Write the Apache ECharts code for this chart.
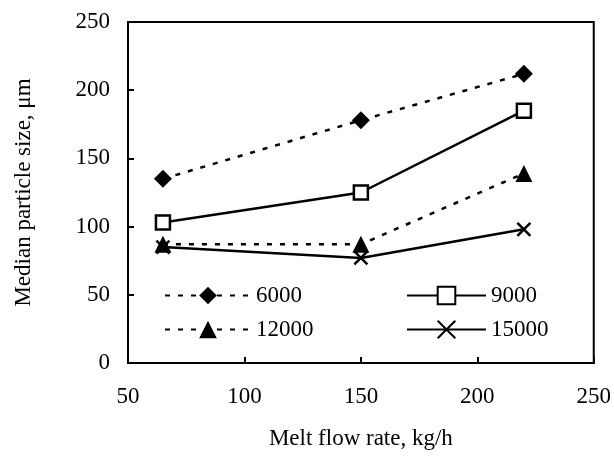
<!DOCTYPE html>
<html>
<head>
<meta charset="utf-8">
<script src="https://cdn.jsdelivr.net/npm/echarts@6/dist/echarts.min.js"></script>
<style>
  html, body { margin: 0; padding: 0; background: #fff; }
  #chart { width: 614px; height: 463px; }
</style>
</head>
<body>
<div id="chart"></div>
<script>
(function() {
  'use strict';

  var colorInk = '#000';
  var fontFamily = '"Liberation Serif", "DejaVu Serif", serif';

  // melt flow rate, kg/h
  var flowRates = [65, 150, 220];
  // median particle size, um, per series
  var size6000 = [135, 178, 212];
  var size9000 = [103, 125, 185];
  var size12000 = [87, 87, 139];
  var size15000 = [85, 77, 98];

  var seriesNames = ['6000', '9000', '12000', '15000'];

  function pairs(xs, ys) {
    return xs.map(function(x, i) { return [x, ys[i]]; });
  }

  var crossPath = 'path://M0,0L10,10M10,0L0,10';

  var chart = echarts.init(document.getElementById('chart'));

  function makeSeries(name, values, dashed, symbol, fill, size) {
    return {
      name: name,
      type: 'line',
      data: pairs(flowRates, values),
      symbol: symbol,
      symbolSize: size,
      showSymbol: true,
      lineStyle: { color: colorInk, width: 2.5, type: dashed ? [5, 8] : 'solid' },
      itemStyle: { color: fill, borderColor: colorInk, borderWidth: symbol === crossPath || fill === '#fff' ? 2.5 : 0 },
      emphasis: { disabled: true },
      z: 3
    };
  }

  var legendText = { color: colorInk, fontSize: 23, fontFamily: fontFamily };

  chart.setOption({
    animation: false,
    backgroundColor: '#fff',
    textStyle: { fontFamily: fontFamily },
    grid: {
      left: 128, right: 19, top: 22, bottom: 100,
      show: true, borderColor: colorInk, borderWidth: 2
    },
    legend: [
      {
        data: [seriesNames[0], seriesNames[2]],
        orient: 'vertical',
        left: 159, top: 279,
        itemWidth: 86, itemHeight: 22, itemGap: 11,
        textStyle: legendText
      },
      {
        data: [seriesNames[1], seriesNames[3]],
        orient: 'vertical',
        left: 401, top: 279,
        itemWidth: 79, itemHeight: 22, itemGap: 11,
        textStyle: legendText
      }
    ],
    xAxis: {
      type: 'value',
      min: 50, max: 250, interval: 50,
      name: 'Melt flow rate, kg/h',
      nameLocation: 'middle',
      nameGap: 64,
      nameTextStyle: { color: colorInk, fontSize: 23, fontFamily: fontFamily },
      axisLine: { lineStyle: { color: colorInk, width: 2 } },
      axisTick: { inside: true, length: 6, lineStyle: { color: colorInk, width: 2 } },
      axisLabel: { color: colorInk, fontSize: 23, margin: 22, fontFamily: fontFamily },
      splitLine: { show: false }
    },
    yAxis: {
      type: 'value',
      min: 0, max: 250, interval: 50,
      name: 'Median particle size, \u03bcm',
      nameLocation: 'middle',
      nameGap: 93,
      nameTextStyle: { color: colorInk, fontSize: 23, fontFamily: fontFamily },
      axisLine: { lineStyle: { color: colorInk, width: 2 } },
      axisTick: { inside: true, length: 6, lineStyle: { color: colorInk, width: 2 } },
      axisLabel: { color: colorInk, fontSize: 23, margin: 18, fontFamily: fontFamily },
      splitLine: { show: false }
    },
    series: [
      makeSeries(seriesNames[0], size6000, true, 'diamond', colorInk, 18),
      makeSeries(seriesNames[1], size9000, false, 'rect', '#fff', 14),
      makeSeries(seriesNames[2], size12000, true, 'triangle', colorInk, 17),
      makeSeries(seriesNames[3], size15000, false, crossPath, colorInk, 13)
    ]
  });
})();
</script>
</body>
</html>
